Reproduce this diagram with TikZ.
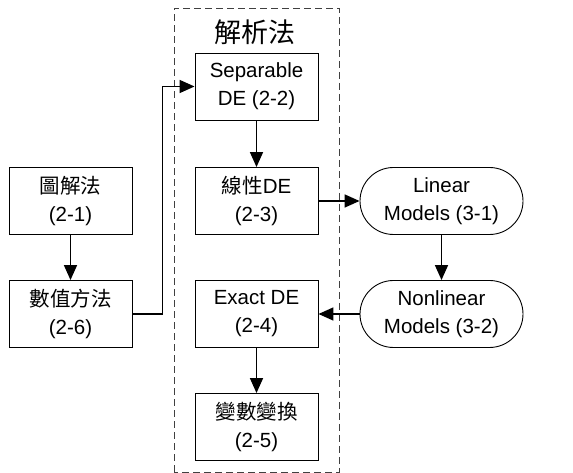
\documentclass[tikz,border=0pt]{standalone}
\usepackage{fontspec}
\setmainfont{Liberation Sans}
\newfontfamily\cjk{Noto Sans CJK TC}
\usetikzlibrary{arrows.meta,shapes.misc}

\tikzstyle{method}=[draw,line width=0.9pt,rectangle,minimum width=123pt,minimum height=67pt,inner sep=0pt,align=center,font=\fontsize{20.5}{28}\selectfont]
\tikzstyle{model}=[draw,line width=0.9pt,rounded rectangle,minimum width=163pt,minimum height=67pt,inner sep=0pt,align=center,font=\fontsize{20.5}{28}\selectfont]
\tikzstyle{flow} = [draw,line width=1.6pt,-{Triangle[length=15pt,width=13pt]}]

\begin{document}
\begin{tikzpicture}[x=1pt, y=1pt]
    \useasboundingbox (0,0) rectangle (573,473);
    % The group of analytic methods
    \draw[dash pattern=on 7pt off 4pt, line width=0.9pt, black!75] (174,1) rectangle (339,465);
    \node[font=\cjk\fontsize{27}{30}\selectfont] (title) at (255,441) {解析法};
    % Method boxes
    \foreach \pos/\name/\text in {{(256.5,386.5)/sep/Separable\\DE (2-2)},
        {(256.5,272)/lin/{\cjk 線性}DE\\(2-3)},
        {(256.5,159)/exact/Exact DE\\(2-4)},
        {(256.5,46)/trans/{\cjk 變數變換}\\(2-5)},
        {(70.5,272)/graph/{\cjk 圖解法}\\(2-1)},
        {(70.5,159)/num/{\cjk 數值方法}\\(2-6)}}
        \node[method] (\name) at \pos {\text};
    % Model boxes
    \foreach \pos/\name/\text in {{(441.5,272)/linm/Linear\\Models (3-1)},
        {(441.5,159)/nonlm/Nonlinear\\Models (3-2)}}
        \node[model] (\name) at \pos {\text};
    % Connect the boxes
    \foreach \source/ \dest in {sep/lin, exact/trans, graph/num, linm/nonlm}
        \path[flow] (\source.south) -- (\dest.north);
    \path[flow] (lin.east) -- (linm.west);
    \path[flow] (nonlm.west) -- (exact.east);
    \path[flow] (num.east) -- ++(30,0) |- (sep.west);
\end{tikzpicture}
\end{document}
